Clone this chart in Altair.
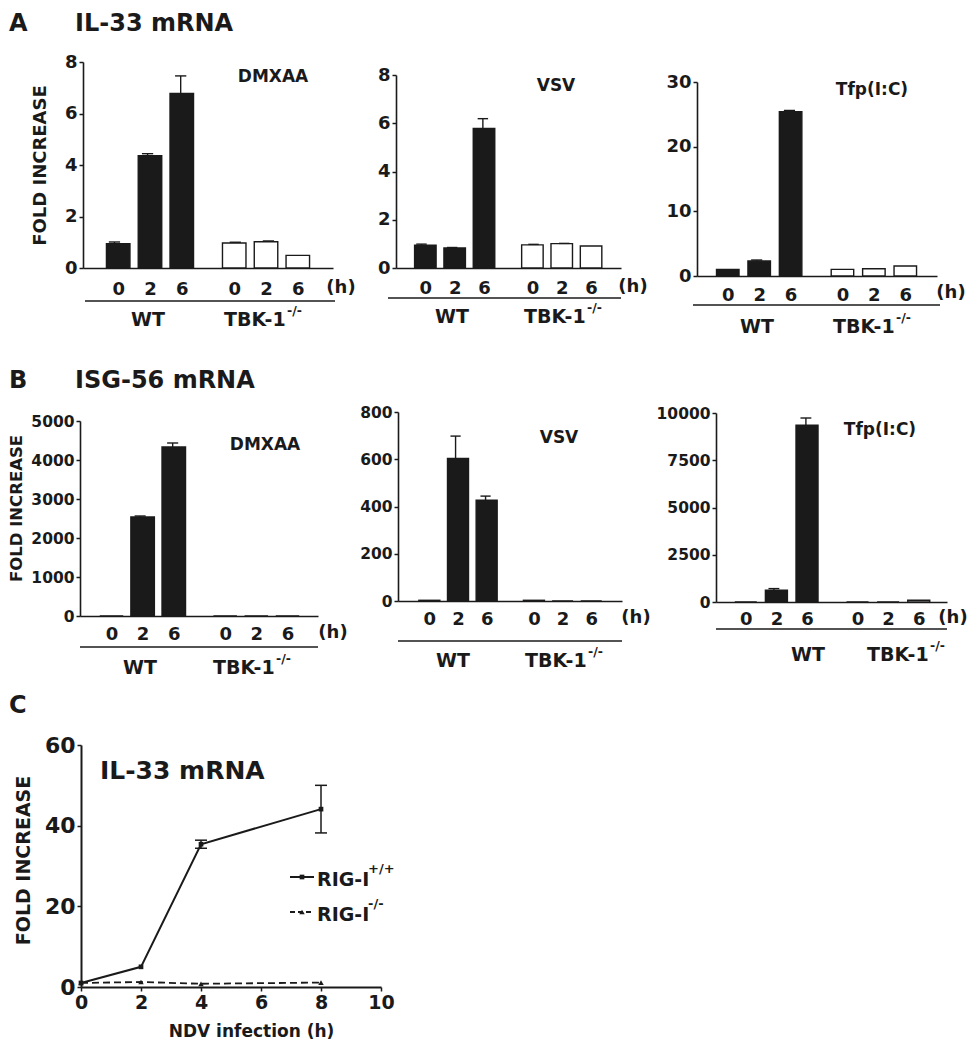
import json
import altair as alt
import pandas as pd

FONT = "DejaVu Sans"
INK = "#1a1a1a"
W, H = 962, 1034


def P(v):
    return v - 8


# ---------------- data ----------------
times = ["0", "2", "6"]
groups = ["WT", "TBK-1"]

# A  IL-33 mRNA (fold increase)
il33_dmxaa_wt = [0.94, 4.36, 6.78]
il33_dmxaa_wt_err = [0.07, 0.08, 0.68]
il33_dmxaa_tbk = [0.97, 1.02, 0.49]
il33_dmxaa_tbk_err = [0.03, 0.03, 0.0]

il33_vsv_wt = [0.94, 0.83, 5.78]
il33_vsv_wt_err = [0.05, 0.02, 0.41]
il33_vsv_tbk = [0.96, 1.01, 0.91]
il33_vsv_tbk_err = [0.02, 0.01, 0.0]

il33_tfp_wt = [1.03, 2.31, 25.4]
il33_tfp_wt_err = [0.0, 0.16, 0.2]
il33_tfp_tbk = [1.03, 1.13, 1.54]
il33_tfp_tbk_err = [0.0, 0.0, 0.0]

# B  ISG-56 mRNA (fold increase)
isg56_dmxaa_wt = [0, 2538, 4333]
isg56_dmxaa_wt_err = [0, 26, 103]
isg56_dmxaa_tbk = [0, 0, 0]
isg56_dmxaa_tbk_err = [0, 0, 0]

isg56_vsv_wt = [3, 603, 427]
isg56_vsv_wt_err = [0, 95, 17]
isg56_vsv_tbk = [3, 0, 0]
isg56_vsv_tbk_err = [0, 0, 0]

isg56_tfp_wt = [0, 619, 9349]
isg56_tfp_wt_err = [0, 90, 386]
isg56_tfp_tbk = [0, 0, 90]
isg56_tfp_tbk_err = [0, 0, 0]

# C  IL-33 mRNA after NDV infection
ndv_hours = [0, 2, 4, 8]
rig_wt = [1.0, 5.0, 35.4, 44.1]
rig_wt_err = [0.0, 0.0, 1.0, 5.9]
rig_ko = [1.0, 1.24, 0.8, 1.1]
rig_ko_err = [0.0, 0.0, 0.0, 0.0]

# ---------------- layout ----------------
GROUP_STEP = 3.65
positions = [gi * GROUP_STEP + ti for gi in range(2) for ti in range(3)]

panels = [
    dict(stim="DMXAA", wt=il33_dmxaa_wt, wte=il33_dmxaa_wt_err, tbk=il33_dmxaa_tbk, tbke=il33_dmxaa_tbk_err,
         xr=(83, 333), dom=(-0.95, 6.6), yr=(268, 62), ydom=(0, 8), ticks=[0, 2, 4, 6, 8], bw=23.5,
         lab_y=289, line=(85, 335, 301), grp_y=320, wt_x=148, tbk_x=224, h=(341, 288), name=(273, 77),
         yfs=18, ytitle=(40, 165, 18)),
    dict(stim="VSV", wt=il33_vsv_wt, wte=il33_vsv_wt_err, tbk=il33_vsv_tbk, tbke=il33_vsv_tbk_err,
         xr=(396, 621), dom=(-0.83, 6.5), yr=(268, 75), ydom=(0, 8), ticks=[0, 2, 4, 6, 8], bw=21.5,
         lab_y=288, line=(388, 621, 298), grp_y=317, wt_x=452, tbk_x=524, h=(633, 287), name=(556, 86),
         yfs=18, ytitle=None),
    dict(stim="Tfp(I:C)", wt=il33_tfp_wt, wte=il33_tfp_wt_err, tbk=il33_tfp_tbk, tbke=il33_tfp_tbk_err,
         xr=(697, 937), dom=(-0.82, 6.5), yr=(276, 82), ydom=(0, 30), ticks=[0, 10, 20, 30], bw=22.5,
         lab_y=295, line=(693, 940, 305), grp_y=327, wt_x=757, tbk_x=833, h=(951, 293), name=(872, 90),
         yfs=18, ytitle=None),
    dict(stim="DMXAA", wt=isg56_dmxaa_wt, wte=isg56_dmxaa_wt_err, tbk=isg56_dmxaa_tbk, tbke=isg56_dmxaa_tbk_err,
         xr=(80, 318), dom=(-0.85, 6.47), yr=(616, 421), ydom=(0, 5000), ticks=[0, 1000, 2000, 3000, 4000, 5000],
         bw=23.5, lab_y=634, line=(80, 318, 647), grp_y=668, wt_x=140, tbk_x=213, h=(333, 633), name=(265, 445),
         yfs=15.5, ytitle=(16, 508, 16.5)),
    dict(stim="VSV", wt=isg56_vsv_wt, wte=isg56_vsv_wt_err, tbk=isg56_vsv_tbk, tbke=isg56_vsv_tbk_err,
         xr=(398, 622), dom=(-0.92, 6.55), yr=(601, 412), ydom=(0, 800), ticks=[0, 200, 400, 600, 800],
         bw=21, lab_y=619, line=(398, 622, 641), grp_y=661, wt_x=453, tbk_x=525, h=(636, 618), name=(559, 438),
         yfs=15.5, ytitle=None),
    dict(stim="Tfp(I:C)", wt=isg56_tfp_wt, wte=isg56_tfp_wt_err, tbk=isg56_tfp_tbk, tbke=isg56_tfp_tbk_err,
         xr=(716, 947), dom=(-0.81, 6.41), yr=(602, 413), ydom=(0, 10000), ticks=[0, 2500, 5000, 7500, 10000],
         bw=22, lab_y=619, line=(716, 947, 629), grp_y=655, wt_x=808, tbk_x=867, h=(953, 618), name=(880, 430),
         yfs=15.5, ytitle=None),
]

one = pd.DataFrame({"_": [0]})


def txt(s, x, y, size, align="center", baseline="middle", angle=0):
    return alt.Chart(one).mark_text(
        text=s, font=FONT, fontWeight="bold", fontSize=size, align=align,
        baseline=baseline, color=INK, angle=angle,
    ).encode(x=alt.value(P(x)), y=alt.value(P(y)))


def hline(x1, x2, y, width=1.5, dash=None):
    kw = dict(color=INK, strokeWidth=width)
    if dash:
        kw["strokeDash"] = dash
    return alt.Chart(one).mark_rule(**kw).encode(
        x=alt.value(P(x1)), x2=alt.value(P(x2)), y=alt.value(P(y)))


label_expr = (f"{json.dumps(times)}[datum.value < 3 ? round(datum.value) : "
              f"round(datum.value - {GROUP_STEP})]")


def bar_panel(p):
    rows = []
    for gi, g in enumerate(groups):
        vals = p["wt"] if gi == 0 else p["tbk"]
        errs = p["wte"] if gi == 0 else p["tbke"]
        for ti, t in enumerate(times):
            pos = gi * GROUP_STEP + ti
            rows.append(dict(pos=pos, value=vals[ti], err=errs[ti], top=vals[ti] + errs[ti],
                             lo=pos - 0.17, hi=pos + 0.17, fill=INK if gi == 0 else "white"))
    df = pd.DataFrame(rows)

    def xs():
        return alt.Scale(domain=list(p["dom"]), range=[P(p["xr"][0]), P(p["xr"][1])], nice=False, zero=False)

    def ys():
        return alt.Scale(domain=list(p["ydom"]), range=[P(p["yr"][0]), P(p["yr"][1])], nice=False, zero=True)

    yaxis_kw = dict(orient="left", offset=-P(p["xr"][0]), values=p["ticks"], format="d", grid=False,
                    domainColor=INK, domainWidth=1.6, tickColor=INK, tickWidth=1.5, tickSize=4,
                    labelFont=FONT, labelFontWeight="bold", labelFontSize=p["yfs"], labelColor=INK,
                    labelPadding=2, labelOverlap=False, labelFlush=False)
    if p["ytitle"]:
        tx, ty, tfs = p["ytitle"]
        yaxis_kw.update(title="FOLD INCREASE", titleFont=FONT, titleFontWeight="bold",
                        titleFontSize=tfs, titleColor=INK, titleAngle=270, titleBaseline="middle",
                        titleAlign="center", titleX=tx - p["xr"][0], titleY=P(ty))
    else:
        yaxis_kw.update(title=None)

    xaxis = alt.Axis(orient="bottom", offset=P(p["yr"][0]) - H, values=positions, labelExpr=label_expr,
                     ticks=False, grid=False, title=None, domainColor=INK, domainWidth=1.6,
                     labelFont=FONT, labelFontWeight="bold", labelFontSize=18, labelColor=INK,
                     labelBaseline="middle", labelPadding=p["lab_y"] - p["yr"][0],
                     labelOverlap=False, labelFlush=False)

    base = alt.Chart(df)
    bars = base.mark_bar(orient="vertical", size=p["bw"], stroke=INK, strokeWidth=1.4).encode(
        x=alt.X("pos:Q", scale=xs(), axis=xaxis),
        y=alt.Y("value:Q", scale=ys(), axis=alt.Axis(**yaxis_kw)),
        y2=alt.Y2(datum=0),
        fill=alt.Fill("fill:N", scale=None),
    )
    err = base.transform_filter(alt.datum.err > 0).mark_rule(color=INK, strokeWidth=1.4).encode(
        x=alt.X("pos:Q", scale=xs(), axis=None),
        y=alt.Y("value:Q", scale=ys(), axis=None),
        y2="top:Q",
    )
    caps = base.transform_filter(alt.datum.err > 0).mark_rule(color=INK, strokeWidth=1.4).encode(
        x=alt.X("lo:Q", scale=xs(), axis=None),
        x2="hi:Q",
        y=alt.Y("top:Q", scale=ys(), axis=None),
    )
    x1, x2, ly = p["line"]
    sup_x = p["tbk_x"] + 63
    return [
        bars, err, caps,
        hline(x1, x2, ly),
        txt("WT", p["wt_x"], p["grp_y"], 19),
        txt("TBK-1", p["tbk_x"], p["grp_y"], 19, align="left"),
        txt("-/-", sup_x, p["grp_y"] - 9, 12.5, align="left"),
        txt("(h)", p["h"][0], p["h"][1], 18),
        txt(p["stim"], p["name"][0], p["name"][1], 17),
    ]


def line_panel():
    rows = []
    for series, vals, errs in [("RIG-I+/+", rig_wt, rig_wt_err), ("RIG-I-/-", rig_ko, rig_ko_err)]:
        for h, v, e in zip(ndv_hours, vals, errs):
            rows.append(dict(series=series, hour=h, value=v, err=e, lo=v - e, hi=v + e,
                             hl=h - 0.2, hr=h + 0.2))
    df = pd.DataFrame(rows)

    def xs():
        return alt.Scale(domain=[0, 10], range=[P(81), P(381)], nice=False, zero=False)

    def ys():
        return alt.Scale(domain=[0, 60], range=[P(987), P(745)], nice=False, zero=False)

    xaxis = alt.Axis(orient="bottom", offset=P(987) - H, values=[0, 2, 4, 6, 8, 10], format="d", grid=False,
                     domainColor=INK, domainWidth=2, tickColor=INK, tickWidth=1.5, tickSize=4,
                     labelFont=FONT, labelFontWeight="bold", labelFontSize=19, labelColor=INK,
                     labelPadding=2, labelOverlap=False, labelFlush=False,
                     title="NDV infection (h)", titleFont=FONT, titleFontWeight="bold", titleFontSize=17,
                     titleColor=INK, titleBaseline="middle", titleX=P(251), titleY=1031 - 987)
    yaxis = alt.Axis(orient="left", offset=-P(81), values=[0, 20, 40, 60], format="d", grid=False,
                     domainColor=INK, domainWidth=2, tickColor=INK, tickWidth=1.5, tickSize=4,
                     labelFont=FONT, labelFontWeight="bold", labelFontSize=22, labelColor=INK,
                     labelPadding=2, labelOverlap=False, labelFlush=False,
                     title="FOLD INCREASE", titleFont=FONT, titleFontWeight="bold", titleFontSize=19,
                     titleColor=INK, titleAngle=270, titleBaseline="middle", titleAlign="center",
                     titleX=23 - 81, titleY=P(860))
    base = alt.Chart(df)
    wt = base.transform_filter(alt.datum.series == "RIG-I+/+")
    ko = base.transform_filter(alt.datum.series == "RIG-I-/-")
    line_wt = wt.mark_line(color=INK, strokeWidth=2).encode(
        x=alt.X("hour:Q", scale=xs(), axis=xaxis), y=alt.Y("value:Q", scale=ys(), axis=yaxis))
    pts_wt = wt.mark_point(shape="square", filled=True, size=22, color=INK, opacity=1).encode(
        x=alt.X("hour:Q", scale=xs(), axis=None), y=alt.Y("value:Q", scale=ys(), axis=None))
    line_ko = ko.mark_line(color=INK, strokeWidth=1.8, strokeDash=[7, 4]).encode(
        x=alt.X("hour:Q", scale=xs(), axis=None), y=alt.Y("value:Q", scale=ys(), axis=None))
    pts_ko = ko.mark_point(shape="triangle-up", filled=True, size=30, color=INK, opacity=1).encode(
        x=alt.X("hour:Q", scale=xs(), axis=None), y=alt.Y("value:Q", scale=ys(), axis=None))
    eb = base.transform_filter(alt.datum.err > 0)
    err = eb.mark_rule(color=INK, strokeWidth=1.5).encode(
        x=alt.X("hour:Q", scale=xs(), axis=None), y=alt.Y("lo:Q", scale=ys(), axis=None), y2="hi:Q")
    cap_hi = eb.mark_rule(color=INK, strokeWidth=1.5).encode(
        x=alt.X("hl:Q", scale=xs(), axis=None), x2="hr:Q", y=alt.Y("hi:Q", scale=ys(), axis=None))
    cap_lo = eb.mark_rule(color=INK, strokeWidth=1.5).encode(
        x=alt.X("hl:Q", scale=xs(), axis=None), x2="hr:Q", y=alt.Y("lo:Q", scale=ys(), axis=None))

    leg_sq = alt.Chart(one).mark_point(shape="square", filled=True, size=22, color=INK, opacity=1).encode(
        x=alt.value(P(302)), y=alt.value(P(877)))
    leg_tri = alt.Chart(one).mark_point(shape="triangle-up", filled=True, size=30, color=INK, opacity=1).encode(
        x=alt.value(P(302)), y=alt.value(P(912)))
    return [
        line_wt, line_ko, pts_wt, pts_ko, err, cap_hi, cap_lo,
        txt("IL-33 mRNA", 100, 771, 25, align="left"),
        hline(290, 314, 877, width=2), leg_sq,
        hline(290, 314, 912, width=1.8, dash=[5, 3]), leg_tri,
        txt("RIG-I", 317, 880, 19, align="left"),
        txt("+/+", 368, 869, 13, align="left"),
        txt("RIG-I", 317, 915, 19, align="left"),
        txt("-/-", 368, 904, 13, align="left"),
    ]


row_titles = [
    txt("A", 9, 24, 24, align="left"),
    txt("IL-33 mRNA", 75, 24, 24, align="left"),
    txt("B", 9, 381, 24, align="left"),
    txt("ISG-56 mRNA", 75, 381, 24, align="left"),
    txt("C", 9, 706, 24, align="left"),
]

all_layers = []
for p in panels:
    all_layers += bar_panel(p)
all_layers += line_panel()
all_layers += row_titles

chart = alt.layer(*all_layers).resolve_scale(x="independent", y="independent").properties(
    width=W, height=H, autosize=alt.AutoSizeParams(type="none"), padding=0,
).configure_view(stroke=None)

chart.save("out.html", embed_options={"renderer": "svg", "actions": False})
